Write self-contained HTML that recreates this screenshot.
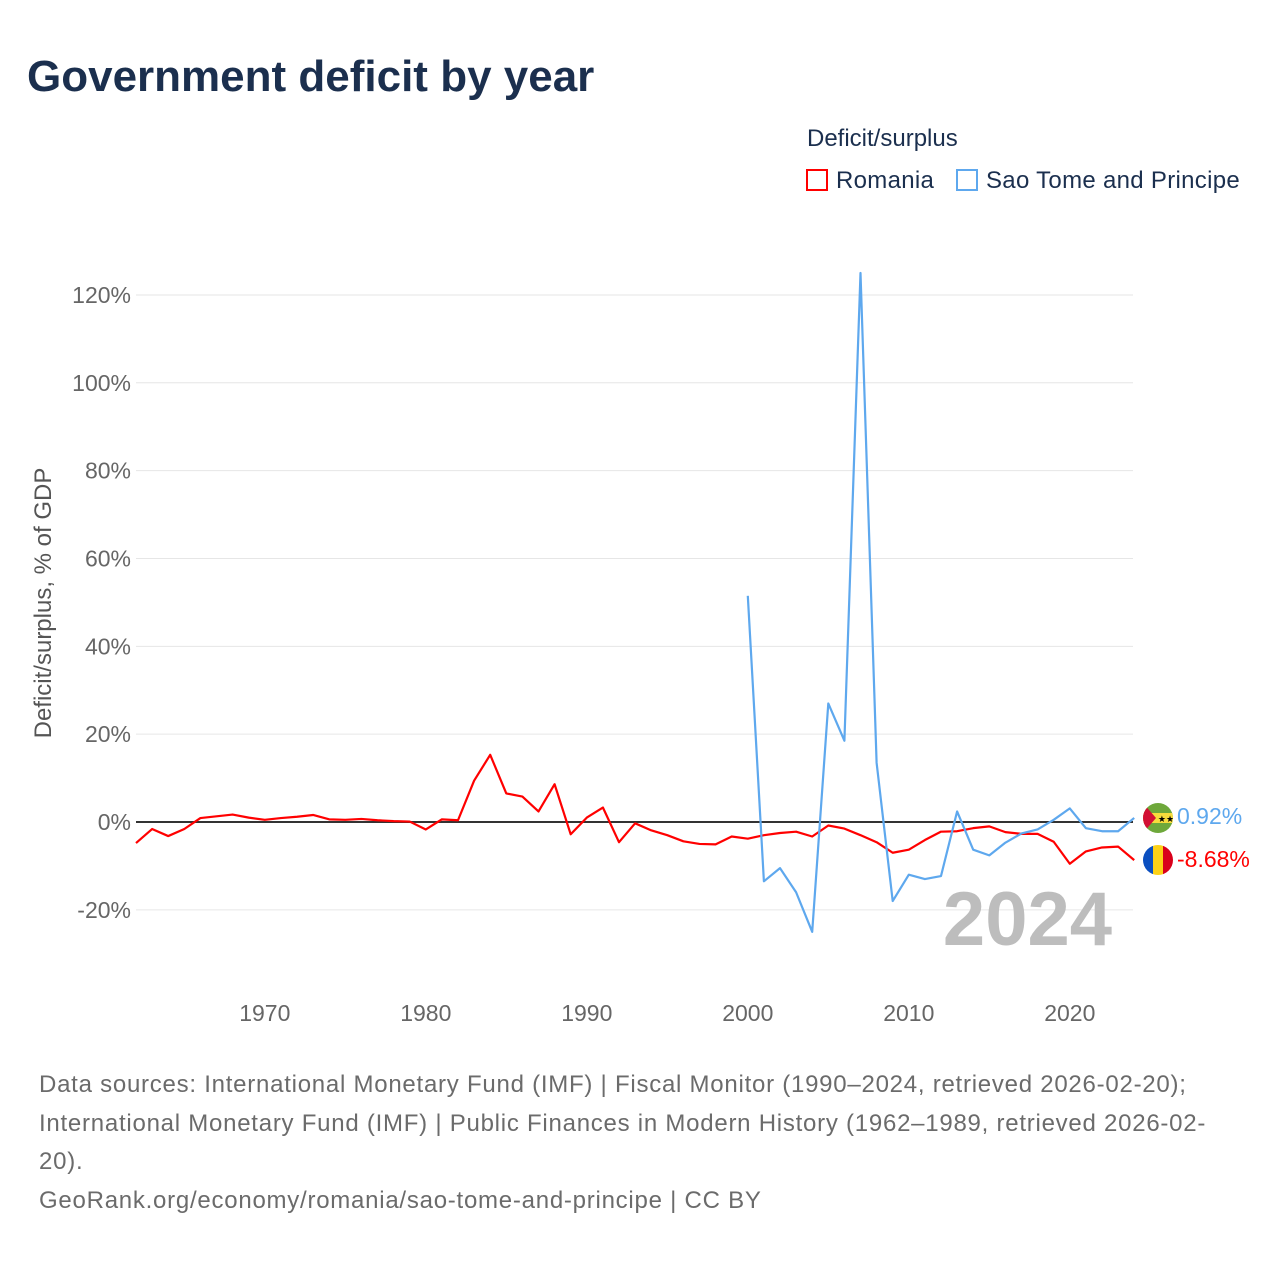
<!DOCTYPE html>
<html><head><meta charset="utf-8"><style>
body{margin:0;background:#fff;font-family:"Liberation Sans",sans-serif}
#wrap{position:relative;width:1280px;height:1280px;overflow:hidden}
.t{position:absolute;white-space:nowrap}
</style></head><body>
<div id="wrap">
<div class="t" style="left:27px;top:52px;font-size:44px;font-weight:bold;color:#1b2f4e">Government deficit by year</div>
<div class="t" style="left:807px;top:125px;font-size:24px;color:#1b2f4e">Deficit/surplus</div>
<div class="t" style="left:806px;top:167px;font-size:24px;color:#1b2f4e;letter-spacing:0.3px"><span style="display:inline-block;width:22px;height:22px;border:2px solid #f00;box-sizing:border-box;vertical-align:-3px;margin-right:8px"></span>Romania</div>
<div class="t" style="left:956px;top:167px;font-size:24px;color:#1b2f4e;letter-spacing:0.3px"><span style="display:inline-block;width:22px;height:22px;border:2px solid #5ea8ee;box-sizing:border-box;vertical-align:-3px;margin-right:8px"></span>Sao Tome and Principe</div>
<svg id="chart" width="1280" height="1280" style="position:absolute;left:0;top:0">
<defs><clipPath id="c1"><circle cx="1158" cy="818" r="15"/></clipPath><clipPath id="c2"><circle cx="1158" cy="860" r="15"/></clipPath></defs>
<g id="grid"></g><g id="lines"></g>
<text x="1112" y="945" text-anchor="end" font-size="76" font-weight="bold" fill="#bdbdbd">2024</text>
<text transform="translate(51,603) rotate(-90)" text-anchor="middle" font-size="24" fill="#555">Deficit/surplus, % of GDP</text>
<g clip-path="url(#c1)"><rect x="1143" y="803" width="30" height="30" fill="#6ea83b"/><rect x="1143" y="813" width="30" height="10" fill="#f7dc3c"/><polygon points="1143,803 1156,818 1143,833" fill="#d21034"/><text x="1166" y="822" font-size="9" text-anchor="middle">★★</text></g>
<g clip-path="url(#c2)"><rect x="1143" y="845" width="10" height="30" fill="#0b4fc0"/><rect x="1153" y="845" width="10" height="30" fill="#fcd116"/><rect x="1163" y="845" width="10" height="30" fill="#d9001b"/></g>
<text x="1177" y="824" font-size="23" fill="#5ea8ee">0.92%</text>
<text x="1177" y="867" font-size="23" fill="#f00">-8.68%</text>
</svg>
<div class="t" style="left:39px;top:1066px;font-size:24px;line-height:38.7px;letter-spacing:0.75px;color:#6b6b6b">Data sources: International Monetary Fund (IMF) | Fiscal Monitor (1990–2024, retrieved 2026-02-20);<br>International Monetary Fund (IMF) | Public Finances in Modern History (1962–1989, retrieved 2026-02-<br>20).<br>GeoRank.org/economy/romania/sao-tome-and-principe | CC BY</div>
</div>
<script>
const romaniaYears=[];for(let y=1962;y<=2024;y++)romaniaYears.push(y);
const romaniaValues=[-4.8,-1.6,-3.2,-1.6,0.9,1.3,1.7,1.0,0.5,0.9,1.2,1.6,0.6,0.5,0.7,0.4,0.2,0.1,-1.7,0.6,0.4,9.4,15.3,6.5,5.8,2.4,8.6,-2.8,1.0,3.3,-4.6,-0.3,-1.9,-3.0,-4.4,-5.0,-5.1,-3.3,-3.8,-3.0,-2.5,-2.2,-3.3,-0.8,-1.5,-3.0,-4.6,-7.0,-6.3,-4.1,-2.2,-2.1,-1.4,-1.0,-2.3,-2.7,-2.7,-4.5,-9.5,-6.7,-5.8,-5.6,-8.68];
const stpYears=[];for(let y=2000;y<=2024;y++)stpYears.push(y);
const stpValues=[51.5,-13.5,-10.5,-16,-25,27,18.5,125,13.5,-18,-12,-13,-12.3,2.4,-6.3,-7.6,-4.7,-2.6,-1.7,0.5,3.1,-1.4,-2.1,-2.1,0.92];
const yTicks=[-20,0,20,40,60,80,100,120];
const xTicks=[1970,1980,1990,2000,2010,2020];
const X=y=>136+(y-1962)*16.1, Y=v=>822-v*4.392;
const NS='http://www.w3.org/2000/svg';
const grid=document.getElementById('grid'), lines=document.getElementById('lines');
function mk(tag,attrs,parent){const e=document.createElementNS(NS,tag);for(const k in attrs)e.setAttribute(k,attrs[k]);parent.appendChild(e);return e;}
yTicks.forEach(v=>{
 const l=mk('line',{x1:136,x2:1133,y1:Y(v),y2:Y(v),stroke:'#e6e6e6','stroke-width':1},grid);
 
 
 const t=mk('text',{x:131,y:Y(v)+8,'text-anchor':'end','font-size':23,fill:'#666'},grid);
 
 
 t.textContent=v+'%';
});
xTicks.forEach(y=>{
 const t=mk('text',{x:X(y),y:1021,'text-anchor':'middle','font-size':23,fill:'#666'},grid);
 
 
 t.textContent=y;
});
const z=mk('line',{x1:136,x2:1133,y1:Y(0),y2:Y(0),stroke:'#333','stroke-width':2},grid);


function series(xs,vs,color,name){
 const p=mk('polyline',{points:xs.map((x,i)=>X(x)+','+Y(vs[i])).join(' '),fill:'none',stroke:color,'stroke-width':2.2,'stroke-linejoin':'round'},lines);
 
 
}
series(romaniaYears,romaniaValues,'#ff0000','line-romania');
series(stpYears,stpValues,'#5ea8ee','line-sao-tome');
</script>
</body></html>
